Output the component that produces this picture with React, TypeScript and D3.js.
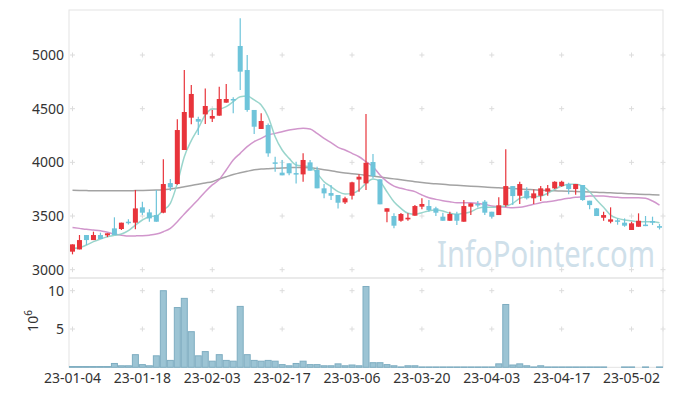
import React from 'react';
import * as d3 from 'd3';

// trading days shown on the chart
const dates = [
  '23-01-04', '23-01-05', '23-01-06', '23-01-09', '23-01-10', '23-01-11', '23-01-12', '23-01-13', '23-01-16', '23-01-17',
  '23-01-18', '23-01-19', '23-01-20', '23-01-25', '23-01-26', '23-01-27', '23-01-30', '23-01-31', '23-02-01', '23-02-02',
  '23-02-03', '23-02-06', '23-02-07', '23-02-08', '23-02-09', '23-02-10', '23-02-13', '23-02-14', '23-02-15', '23-02-16',
  '23-02-17', '23-02-20', '23-02-21', '23-02-22', '23-02-23', '23-02-24', '23-02-27', '23-02-28', '23-03-02', '23-03-03',
  '23-03-06', '23-03-07', '23-03-08', '23-03-09', '23-03-10', '23-03-13', '23-03-14', '23-03-15', '23-03-16', '23-03-17',
  '23-03-20', '23-03-21', '23-03-22', '23-03-23', '23-03-24', '23-03-27', '23-03-28', '23-03-29', '23-03-30', '23-03-31',
  '23-04-03', '23-04-04', '23-04-05', '23-04-06', '23-04-07', '23-04-10', '23-04-11', '23-04-12', '23-04-13', '23-04-14',
  '23-04-17', '23-04-18', '23-04-19', '23-04-20', '23-04-21', '23-04-24', '23-04-25', '23-04-26', '23-04-27', '23-04-28',
  '23-05-02', '23-05-03', '23-05-04', '23-05-08', '23-05-09',
];

const open = [
  3168, 3189, 3323, 3276, 3323, 3320, 3385, 3379, 3447, 3438,
  3581, 3534, 3509, 3531, 3807, 3798, 4115, 4416, 4404, 4447,
  4407, 4435, 4556, 4590, 5084, 4860, 4488, 4311, 4348, 4000,
  3904, 3991, 3900, 3888, 4000, 3929, 3758, 3714, 3696, 3627,
  3689, 3840, 3804, 4003, 3842, 3540, 3500, 3456, 3469, 3503,
  3587, 3593, 3572, 3494, 3456, 3519, 3447, 3587, 3612, 3634,
  3540, 3509, 3602, 3779, 3689, 3736, 3665, 3689, 3727, 3758,
  3779, 3798, 3751, 3789, 3643, 3571, 3484, 3447, 3460, 3438,
  3370, 3400, 3420, 3453, 3406,
];
const high = [
  3236, 3323, 3323, 3354, 3345, 3339, 3488, 3438, 3469, 3742,
  3634, 3562, 3742, 4028, 3845, 4401, 4860, 4720, 4425, 4689,
  4488, 4705, 4730, 4606, 5342, 5000, 4488, 4457, 4363, 4053,
  4022, 3991, 4006, 4084, 4022, 3960, 3798, 3789, 3696, 3680,
  3820, 3888, 4450, 4077, 3842, 3572, 3525, 3528, 3525, 3602,
  3665, 3649, 3587, 3531, 3540, 3540, 3649, 3618, 3640, 3649,
  3540, 3674, 4121, 3779, 3819, 3767, 3748, 3779, 3789, 3825,
  3829, 3810, 3798, 3789, 3643, 3575, 3540, 3581, 3478, 3478,
  3447, 3525, 3500, 3494, 3425,
];
const low = [
  3143, 3189, 3230, 3276, 3286, 3304, 3323, 3370, 3422, 3376,
  3509, 3447, 3447, 3525, 3733, 3792, 4115, 4354, 4255, 4357,
  4376, 4435, 4556, 4457, 4674, 4472, 4264, 4311, 4053, 3913,
  3879, 3879, 3804, 3820, 3922, 3758, 3665, 3649, 3571, 3612,
  3655, 3727, 3742, 3851, 3609, 3441, 3385, 3447, 3456, 3503,
  3562, 3540, 3500, 3456, 3456, 3416, 3447, 3509, 3580, 3509,
  3478, 3509, 3587, 3602, 3612, 3655, 3612, 3640, 3689, 3752,
  3773, 3702, 3699, 3643, 3562, 3500, 3456, 3432, 3419, 3400,
  3370, 3400, 3406, 3416, 3375,
];
const close = [
  3236, 3276, 3276, 3323, 3286, 3339, 3323, 3438, 3441, 3571,
  3531, 3478, 3447, 3798, 3767, 4301, 4469, 4637, 4379, 4525,
  4432, 4590, 4590, 4581, 4845, 4488, 4332, 4385, 4084, 3990,
  3879, 3898, 3897, 4022, 3922, 3758, 3711, 3689, 3624, 3665,
  3814, 3866, 3996, 3872, 3609, 3572, 3410, 3519, 3484, 3593,
  3612, 3556, 3531, 3456, 3519, 3456, 3593, 3618, 3600, 3531,
  3494, 3600, 3779, 3686, 3798, 3665, 3711, 3758, 3758, 3819,
  3819, 3751, 3798, 3649, 3602, 3500, 3509, 3469, 3452, 3410,
  3432, 3456, 3416, 3438, 3391,
];

// volume in millions of shares
const volume = [
  0.1, 0.1, 0.1, 0.1, 0.1, 0.1, 0.5, 0.2, 0.2, 1.65,
  0.35, 0.2, 1.5, 10.0, 0.9, 7.8, 9.0, 4.65, 1.5, 2.05,
  0.8, 1.65, 0.9, 0.8, 7.95, 1.65, 0.9, 0.8, 0.9, 0.8,
  0.35, 0.2, 0.5, 0.8, 0.35, 0.35, 0.2, 0.2, 0.45, 0.2,
  0.3, 0.2, 10.55, 0.6, 0.6, 0.35, 0.2, 0.05, 0.2, 0.2,
  0.05, 0.05, 0.05, 0.05, 0.05, 0.05, 0.05, 0.05, 0.05, 0.05,
  0.05, 0.45, 8.2, 0.3, 0.45, 0.2, 0.05, 0.2, 0.05, 0.05,
  0.05, 0.05, 0.05, 0.05, 0.05, 0.05, 0.05, 0, 0, 0.05,
  0.05, 0, 0.05, 0, 0.05,
];

// moving averages
const ma5 = [
  3199, 3205, 3230, 3261, 3286, 3307, 3320, 3332, 3363, 3416,
  3463, 3494, 3500, 3556, 3618, 3804, 4053, 4202, 4317, 4441,
  4497, 4497, 4519, 4565, 4612, 4618, 4581, 4534, 4425, 4239,
  4115, 4037, 3975, 3966, 3960, 3897, 3820, 3773, 3727, 3705,
  3711, 3742, 3804, 3844, 3820, 3726, 3633, 3571, 3525, 3516,
  3531, 3549, 3556, 3547, 3525, 3516, 3525, 3540, 3571, 3581,
  3581, 3587, 3593, 3618, 3665, 3680, 3680, 3686, 3711, 3748,
  3779, 3795, 3795, 3779, 3727, 3649, 3581, 3509, 3478, 3463,
  3456, 3447, 3447, 3447, 3438,
];
const ma20 = [
  3394, 3385, 3376, 3370, 3363, 3348, 3332, 3322, 3314, 3315,
  3317, 3322, 3332, 3354, 3385, 3447, 3519, 3587, 3655, 3727,
  3790, 3840, 3929, 4022, 4084, 4146, 4193, 4224, 4255, 4270,
  4286, 4301, 4311, 4317, 4311, 4270, 4224, 4183, 4140, 4115,
  4084, 4052, 4006, 3959, 3882, 3820, 3779, 3758, 3742, 3727,
  3696, 3670, 3655, 3643, 3633, 3624, 3624, 3624, 3618, 3609,
  3593, 3587, 3582, 3578, 3581, 3593, 3609, 3624, 3633, 3643,
  3655, 3665, 3674, 3680, 3686, 3686, 3686, 3680, 3674, 3670,
  3670, 3670, 3665, 3640, 3602,
];
const ma60 = [
  3739, 3738, 3737, 3736, 3736, 3736, 3736, 3736, 3736, 3737,
  3738, 3740, 3742, 3745, 3752, 3760, 3773, 3785, 3796, 3808,
  3820, 3845, 3866, 3886, 3903, 3917, 3930, 3937, 3941, 3944,
  3947, 3950, 3953, 3953, 3950, 3941, 3932, 3922, 3910, 3901,
  3894, 3888, 3880, 3872, 3864, 3855, 3846, 3837, 3828, 3820,
  3812, 3805, 3800, 3795, 3790, 3786, 3782, 3778, 3774, 3770,
  3766, 3763, 3760, 3756, 3752, 3748, 3744, 3740, 3737, 3735,
  3733, 3731, 3729, 3727, 3724, 3721, 3718, 3716, 3713, 3710,
  3707, 3704, 3701, 3699, 3697,
];

const priceTicks = [3000, 3500, 4000, 4500, 5000];
const volumeTicks = [5, 10];

const W = 673;
const H = 396;
const left = 69;
const right = 663;
const mainTop = 10;
const mainBottom = 278;
const volBottom = 367.3;

const UP = '#e8343b';
const DOWN = '#6ec4da';
const FONT = '"Noto Sans", "DejaVu Sans", sans-serif';

const App = () => {
  const idx = d3.range(dates.length);
  const x = d3.scaleBand<number>().domain(idx).range([left, right]);
  const cx = (i: number) => (x(i) as number) + x.bandwidth() / 2;
  const y = d3.scaleLinear().domain([3000, 5000]).range([269.7, 55]);
  const yv = d3.scaleLinear().domain([0, 10]).range([volBottom, 290.7]);

  const lineOf = (vals: number[]) =>
    d3.line<number>().x((_, i) => cx(i)).y(v => y(v)).curve(d3.curveMonotoneX)(vals) || '';

  const xTickIdx = idx.filter(i => i % 10 === 0);
  const cross = (px: number, py: number, k: string) => (
    <g key={k} stroke="#dcdcdc" strokeWidth={1}>
      <line x1={px - 2.5} x2={px + 2.5} y1={py} y2={py} />
      <line x1={px} x2={px} y1={py - 2.5} y2={py + 2.5} />
    </g>
  );

  const bodyW = 5;
  const volW = 6;

  return (
    <svg width={W} height={H} style={{ position: 'absolute', left: 0, top: 0, background: '#fff' }}
      fontFamily={FONT}>
      <defs>
        <clipPath id="mainClip">
          <rect x={left} y={mainTop} width={right - left} height={mainBottom - mainTop} />
        </clipPath>
      </defs>

      {/* grid markers */}
      {xTickIdx.map(i => priceTicks.map(t => cross(cx(i), y(t), `p${i}-${t}`)))}
      {xTickIdx.map(i => volumeTicks.map(t => cross(cx(i), yv(t), `v${i}-${t}`)))}
      {priceTicks.map(t => cross(right, y(t), `rp${t}`))}
      {volumeTicks.map(t => cross(right, yv(t), `rv${t}`))}

      {/* watermark */}
      <text transform="translate(437,267) scale(1,1.22)" fontSize={30} fill="#cfe0ea"
        textLength={218} lengthAdjust="spacingAndGlyphs">
        InfoPointer.com
      </text>

      {/* panel frames */}
      <rect x={left} y={mainTop} width={right - left} height={mainBottom - mainTop} fill="none" stroke="#e3e3e3" />
      <rect x={left} y={mainBottom} width={right - left} height={volBottom - mainBottom} fill="none" stroke="#e3e3e3" />

      <g clipPath="url(#mainClip)">
        <path d={lineOf(ma60)} fill="none" stroke="#999" strokeWidth={1.5} opacity={0.9} />
        <path d={lineOf(ma20)} fill="none" stroke="#cc8bc7" strokeWidth={1.5} opacity={0.9} />
        <path d={lineOf(ma5)} fill="none" stroke="#8ed0c6" strokeWidth={1.5} opacity={0.9} />

        {idx.map(i => {
          const up = close[i] >= open[i];
          const col = up ? UP : DOWN;
          const top = y(Math.max(open[i], close[i]));
          const bot = y(Math.min(open[i], close[i]));
          return (
            <g key={i}>
              <line x1={cx(i)} x2={cx(i)} y1={y(high[i])} y2={y(low[i])} stroke={col} strokeWidth={1.2} />
              <rect x={cx(i) - bodyW / 2} y={top} width={bodyW} height={Math.max(1.5, bot - top)} fill={col} />
            </g>
          );
        })}
      </g>

      {/* volume bars */}
      {idx.filter(i => volume[i] > 0).map(i => (
        <rect key={`vb${i}`} x={cx(i) - volW / 2} y={yv(volume[i])} width={volW}
          height={Math.max(0.5, volBottom - yv(volume[i]))}
          fill="#9cc4d4" stroke="#7eadc1" strokeWidth={1} />
      ))}

      {/* axis labels */}
      {priceTicks.map(t => (
        <text key={`pt${t}`} x={64} y={y(t)} dy="0.35em" textAnchor="end" fontSize={14} fill="#333">{t}</text>
      ))}
      {volumeTicks.map(t => (
        <text key={`vt${t}`} x={64} y={yv(t)} dy="0.35em" textAnchor="end" fontSize={14} fill="#333">{t}</text>
      ))}
      <text transform="translate(38,321) rotate(-90)" textAnchor="middle" fontSize={14} fill="#333">
        10<tspan dy={-6} fontSize={10}>6</tspan>
      </text>
      {xTickIdx.map(i => (
        <text key={`xt${i}`} x={cx(i)} y={383} textAnchor="middle" fontSize={14} fill="#333">{dates[i]}</text>
      ))}
    </svg>
  );
};

export default App;
